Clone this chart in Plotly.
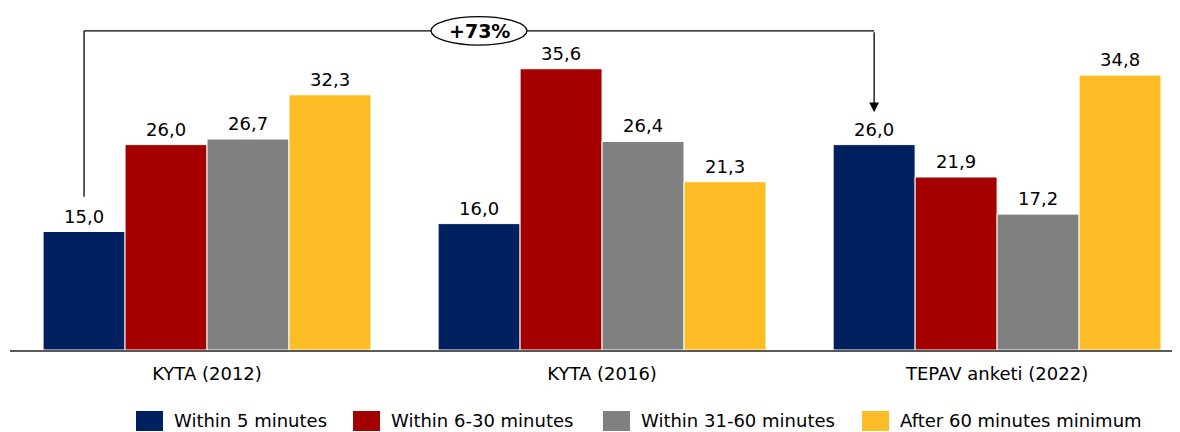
import plotly.graph_objects as go

categories = ["KYTA (2012)", "KYTA (2016)", "TEPAV anketi (2022)"]
series_names = ["Within 5 minutes", "Within 6-30 minutes", "Within 31-60 minutes", "After 60 minutes minimum"]
within_5 = [15.0, 16.0, 26.0]
within_6_30 = [26.0, 35.6, 21.9]
within_31_60 = [26.7, 26.4, 17.2]
after_60 = [32.3, 21.3, 34.8]
change_label = "+73%"

colors = ["#002060", "#A50000", "#808080", "#FBBC26"]
values = [within_5, within_6_30, within_31_60, after_60]

FONT = "DejaVu Sans"
FS = 18

# figure geometry (page body adds an 8px offset)
W, H = 1172, 424
ML, MR, MT, MB = 2, 0, 0, 82
PW, PH = W - ML - MR, H - MT - MB

bargap = 0.17
n = len(values)
bw = (1 - bargap) / n

def px(xf):
    return (xf - ML) / PW

def py(yf):
    return (MT + PH - yf) / PH

fig = go.Figure()
for i, (name, vals, col) in enumerate(zip(series_names, values, colors)):
    fig.add_trace(go.Bar(
        x=list(range(len(categories))), y=vals, name=name,
        marker=dict(color=col, line=dict(width=1, color="#FFFFFF")),
        showlegend=False,
    ))
    off = -(1 - bargap) / 2 + bw * (i + 0.5)
    for j, v in enumerate(vals):
        fig.add_annotation(x=j + off, y=v, text=f"{v:.1f}".replace(".", ","),
                           showarrow=False, yanchor="bottom", yshift=3,
                           font=dict(family=FONT, size=FS, color="#000000"))

# bracket annotation
x_start = 0 - (1 - bargap) / 2 + bw / 2
x_end = 2 - (1 - bargap) / 2 + bw / 2
y_top = 40.4
y_start_bottom = within_5[0] + 4.4
y_end_bottom = within_5[2] + 4.1

line_style = dict(color="#000000", width=1.3)
fig.add_shape(type="line", x0=x_start, x1=x_start, y0=y_start_bottom, y1=y_top,
              line=line_style, layer="above")
fig.add_shape(type="line", x0=x_start, x1=x_end, y0=y_top, y1=y_top,
              line=line_style, layer="above")
fig.add_shape(type="circle", x0=0.567, x1=0.81, y0=38.6, y1=42.2,
              line=line_style, fillcolor="#FFFFFF", layer="above")
fig.add_annotation(x=0.6885, y=y_top, text="<b>" + change_label + "</b>", showarrow=False,
                   font=dict(family=FONT, size=19, color="#000000"))
fig.add_annotation(x=x_end, y=y_end_bottom, ax=x_end, ay=y_top, axref="x", ayref="y",
                   xref="x", yref="y", text="", showarrow=True, arrowhead=2,
                   arrowsize=1.5, arrowwidth=1.3, arrowcolor="#000000")

# custom legend (figure pixel layout)
legend_box_x = [128, 345, 595, 854]
legend_box_w = 27
legend_y0, legend_y1 = 403, 423
legend_text_gap = 9
for name, col, bx in zip(series_names, colors, legend_box_x):
    fig.add_shape(type="rect", xref="paper", yref="paper",
                  x0=px(bx), x1=px(bx + legend_box_w), y0=py(legend_y1), y1=py(legend_y0),
                  fillcolor=col, line=dict(width=0), layer="above")
    fig.add_annotation(xref="paper", yref="paper", x=px(bx + legend_box_w + legend_text_gap),
                       y=py((legend_y0 + legend_y1) / 2), text=name, showarrow=False,
                       xanchor="left", yanchor="middle",
                       font=dict(family=FONT, size=FS, color="#000000"))

fig.update_layout(
    width=W, height=H,
    margin=dict(l=ML, r=MR, t=MT, b=MB, autoexpand=False),
    paper_bgcolor="#FFFFFF", plot_bgcolor="#FFFFFF",
    barmode="group", bargap=bargap, bargroupgap=0,
    showlegend=False,
    font=dict(family=FONT, color="#000000"),
    xaxis=dict(tickmode="array", tickvals=list(range(len(categories))), ticktext=categories,
               range=[-0.4987, 2.463], showline=True, linecolor="#595959", linewidth=2,
               showgrid=False, zeroline=False, ticks="", ticklabelstandoff=6,
               tickfont=dict(family=FONT, size=FS, color="#000000")),
    yaxis=dict(range=[0, PH / 7.9], visible=False, showgrid=False, zeroline=False),
)

fig.write_html("out.html")
